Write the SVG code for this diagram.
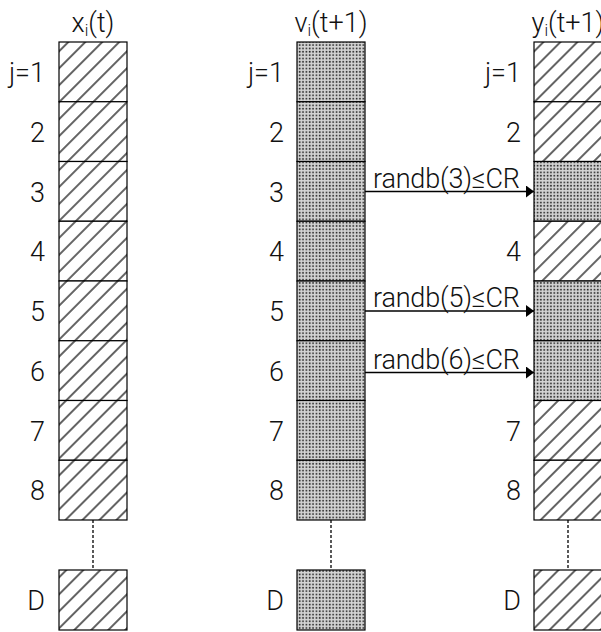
<svg xmlns="http://www.w3.org/2000/svg" width="601" height="632" viewBox="0 0 601 632">
<defs>
<pattern id="hatch" patternUnits="userSpaceOnUse" width="12" height="12" patternTransform="rotate(45)">
<rect width="12" height="12" fill="#fff"/>
<line x1="6" y1="0" x2="6" y2="12" stroke="#222" stroke-width="1.4"/>
</pattern>
<pattern id="dots" patternUnits="userSpaceOnUse" width="3.35" height="3.35">
<rect width="3.35" height="3.35" fill="#d4d4d4"/>
<rect x="0.7" y="0.7" width="1.6" height="1.6" fill="#222"/>
</pattern>
<marker id="arr" markerWidth="8" markerHeight="12" refX="8" refY="6" orient="auto" markerUnits="userSpaceOnUse">
<path d="M0,0 L8,6 L0,12 Z" fill="#000"/>
</marker>
</defs>
<style>
.h{fill:url(#hatch);stroke:#000;stroke-width:1.2}
.d{fill:url(#dots);stroke:#000;stroke-width:1.2}
text{font-family:Roboto,"Liberation Sans",Arial,sans-serif;font-weight:300;font-size:27px;fill:#111}
.lb{text-anchor:end}
.hd{text-anchor:middle}
.sub{font-size:16px}
.conn{stroke:#000;stroke-width:1.5;fill:none}
.dash{stroke:#000;stroke-width:1.3;stroke-dasharray:3 2;fill:none}
</style>
<rect width="601" height="632" fill="#fff"/>

<g id="col-x">
<text class="hd" x="93" y="32">x<tspan class="sub" dy="4">i</tspan><tspan dy="-4">(t)</tspan></text>
<g id="x-1"><rect class="h" x="59" y="42" width="68" height="59.75"/><text class="lb" x="45" y="82">j=1</text></g>
<g id="x-2"><rect class="h" x="59" y="101.75" width="68" height="59.75"/><text class="lb" x="45" y="142">2</text></g>
<g id="x-3"><rect class="h" x="59" y="161.5" width="68" height="59.75"/><text class="lb" x="45" y="201.5">3</text></g>
<g id="x-4"><rect class="h" x="59" y="221.25" width="68" height="59.75"/><text class="lb" x="45" y="261">4</text></g>
<g id="x-5"><rect class="h" x="59" y="281" width="68" height="59.75"/><text class="lb" x="45" y="321">5</text></g>
<g id="x-6"><rect class="h" x="59" y="340.75" width="68" height="59.75"/><text class="lb" x="45" y="380.5">6</text></g>
<g id="x-7"><rect class="h" x="59" y="400.5" width="68" height="59.75"/><text class="lb" x="45" y="440.5">7</text></g>
<g id="x-8"><rect class="h" x="59" y="460.25" width="68" height="59.75"/><text class="lb" x="45" y="500">8</text></g>
<g id="x-D"><rect class="h" x="59" y="570" width="68" height="60"/><text class="lb" x="45" y="610">D</text></g>
</g>

<g id="col-v">
<text class="hd" x="331" y="32">v<tspan class="sub" dy="4">i</tspan><tspan dy="-4">(t+1)</tspan></text>
<g id="v-1"><rect class="d" x="297" y="42" width="68" height="59.75"/><text class="lb" x="284" y="82">j=1</text></g>
<g id="v-2"><rect class="d" x="297" y="101.75" width="68" height="59.75"/><text class="lb" x="284" y="142">2</text></g>
<g id="v-3"><rect class="d" x="297" y="161.5" width="68" height="59.75"/><text class="lb" x="284" y="201.5">3</text></g>
<g id="v-4"><rect class="d" x="297" y="221.25" width="68" height="59.75"/><text class="lb" x="284" y="261">4</text></g>
<g id="v-5"><rect class="d" x="297" y="281" width="68" height="59.75"/><text class="lb" x="284" y="321">5</text></g>
<g id="v-6"><rect class="d" x="297" y="340.75" width="68" height="59.75"/><text class="lb" x="284" y="380.5">6</text></g>
<g id="v-7"><rect class="d" x="297" y="400.5" width="68" height="59.75"/><text class="lb" x="284" y="440.5">7</text></g>
<g id="v-8"><rect class="d" x="297" y="460.25" width="68" height="59.75"/><text class="lb" x="284" y="500">8</text></g>
<g id="v-D"><rect class="d" x="297" y="570" width="68" height="60"/><text class="lb" x="284" y="610">D</text></g>
</g>

<g id="col-y">
<text class="hd" x="568" y="32">y<tspan class="sub" dy="4">i</tspan><tspan dy="-4">(t+1)</tspan></text>
<g id="y-1"><rect class="h" x="534" y="42" width="68" height="59.75"/><text class="lb" x="521" y="82">j=1</text></g>
<g id="y-2"><rect class="h" x="534" y="101.75" width="68" height="59.75"/><text class="lb" x="521" y="142">2</text></g>
<g id="y-3"><rect class="d" x="534" y="161.5" width="68" height="59.75"/></g>
<g id="y-4"><rect class="h" x="534" y="221.25" width="68" height="59.75"/><text class="lb" x="521" y="261">4</text></g>
<g id="y-5"><rect class="d" x="534" y="281" width="68" height="59.75"/></g>
<g id="y-6"><rect class="d" x="534" y="340.75" width="68" height="59.75"/></g>
<g id="y-7"><rect class="h" x="534" y="400.5" width="68" height="59.75"/><text class="lb" x="521" y="440.5">7</text></g>
<g id="y-8"><rect class="h" x="534" y="460.25" width="68" height="59.75"/><text class="lb" x="521" y="500">8</text></g>
<g id="y-D"><rect class="h" x="534" y="570" width="68" height="60"/><text class="lb" x="521" y="610">D</text></g>
</g>

<g id="connectors">
<line class="dash" x1="93" y1="520" x2="93" y2="570"/>
<line class="dash" x1="331" y1="520" x2="331" y2="570"/>
<line class="dash" x1="568" y1="520" x2="568" y2="570"/>
<line class="conn" x1="365" y1="191.5" x2="534" y2="191.5" marker-end="url(#arr)"/>
<line class="conn" x1="365" y1="311" x2="534" y2="311" marker-end="url(#arr)"/>
<line class="conn" x1="365" y1="372.5" x2="534" y2="372.5" marker-end="url(#arr)"/>
<text x="373" y="188" textLength="147">randb(3)≤CR</text>
<text x="373" y="307" textLength="147">randb(5)≤CR</text>
<text x="373" y="368.5" textLength="147">randb(6)≤CR</text>
</g>
</svg>
